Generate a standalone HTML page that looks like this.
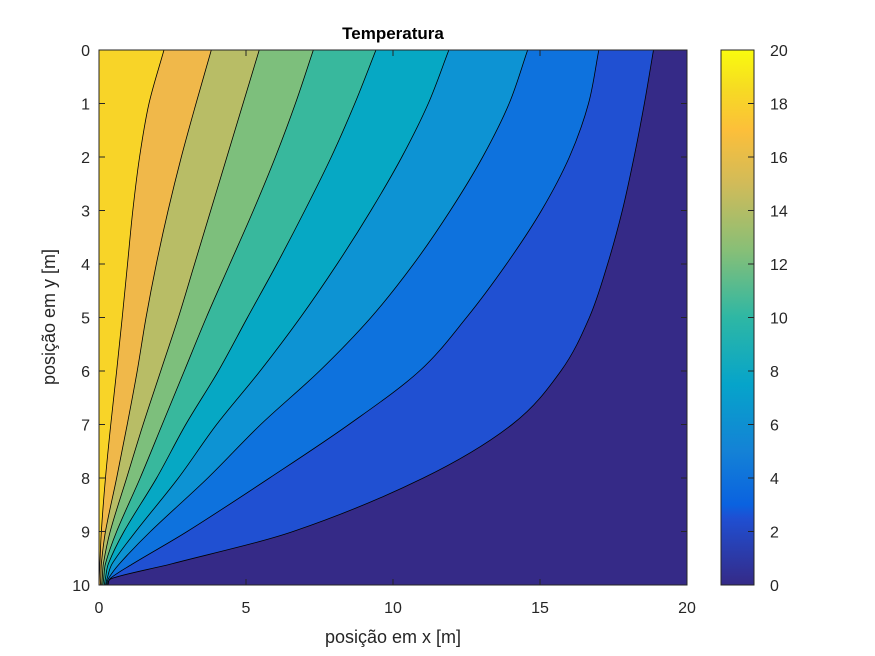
<!DOCTYPE html>
<html><head><meta charset="utf-8"><style>
html,body{margin:0;padding:0;background:#fff;}
svg{display:block;font-family:"Liberation Sans",Arial,sans-serif;}
</style></head><body>
<svg id="chart" width="875" height="656" viewBox="0 0 875 656">
<defs>
<linearGradient id="parula" x1="0" y1="1" x2="0" y2="0">
<stop offset="0" stop-color="#352a87"/><stop offset="0.125" stop-color="#1f4fd2"/>
<stop offset="0.15" stop-color="#0a62e0"/><stop offset="0.25" stop-color="#1482d6"/>
<stop offset="0.375" stop-color="#06a4ca"/><stop offset="0.5" stop-color="#2eb7a4"/>
<stop offset="0.625" stop-color="#87bf77"/><stop offset="0.75" stop-color="#d1bb59"/>
<stop offset="0.85" stop-color="#fcbf3a"/><stop offset="0.93" stop-color="#f6dc22"/>
<stop offset="1" stop-color="#f9fb0e"/></linearGradient>
<clipPath id="clip"><rect x="99" y="50" width="588" height="535"/></clipPath>
</defs>
<rect width="875" height="656" fill="#fff"/>
<g id="plot" clip-path="url(#clip)"></g>
<g id="axes"></g>
<text x="393" y="39" text-anchor="middle" font-size="17" font-weight="bold" fill="#000">Temperatura</text>
<text x="393" y="643" text-anchor="middle" font-size="18" fill="#262626">posição em x [m]</text>
<text x="0" y="0" transform="translate(55,317) rotate(-90)" text-anchor="middle" font-size="18" fill="#262626">posição em y [m]</text>
<rect x="721" y="50" width="33" height="535" fill="url(#parula)" stroke="#262626" stroke-width="1"/>
<g id="cbar"></g>
</svg>
<script>
const ySamples=[0,1,2,3,4,5,6,7,8,9,9.6,9.87,10];
const levels=[2,4,6,8,10,12,14,16,18];
const line2=[18.86,18.55,18.2,17.8,17.3,16.68,15.71,14.05,11.03,6.6,2.5,0.48,0.3];
const line4=[17.0,16.65,16.0,15.05,13.86,12.5,10.9,8.5,5.8,3.0,1.16,0.4,0.28];
const line6=[14.58,13.95,13.05,11.95,10.7,9.25,7.5,5.5,3.7,1.75,0.7,0.33,0.25];
const line8=[11.9,11.2,10.3,9.25,8.1,6.85,5.48,4.0,2.7,1.25,0.45,0.28,0.22];
const line10=[9.42,8.7,7.9,7.0,6.05,5.05,4.06,2.95,1.96,0.85,0.32,0.22,0.18];
const line12=[7.29,6.68,6.0,5.25,4.45,3.65,2.9,2.15,1.4,0.6,0.22,0.16,0.13];
const line14=[5.45,4.9,4.35,3.8,3.25,2.7,2.1,1.5,0.94,0.38,0.15,0.11,0.09];
const line16=[3.82,3.3,2.8,2.35,1.95,1.6,1.3,0.96,0.6,0.22,0.08,0.06,0.05];
const line18=[2.21,1.7,1.38,1.15,0.97,0.79,0.6,0.4,0.22,0.08,0.03,0.01,0];
const contourLines=[line2,line4,line6,line8,line10,line12,line14,line16,line18];
const bandColors=["#352a87","#2050d2","#0e72dd","#0d93d3","#06a8c4","#38b89d","#7dbf7c","#b8bd66","#f0b84a","#f8d428"];
const xTicks=[0,5,10,15,20];
const yTicks=[0,1,2,3,4,5,6,7,8,9,10];
const cTicks=[0,2,4,6,8,10,12,14,16,18,20];
const X=v=>99+v*(588/20), Y=v=>50+v*(535/10), C=v=>585-v*(535/20);
const NS="http://www.w3.org/2000/svg";
function mk(tag,attrs,parent){const e=document.createElementNS(NS,tag);for(const k in attrs)e.setAttribute(k,attrs[k]);parent.appendChild(e);return e;}
const plot=document.getElementById('plot');
const bg=mk('rect',{x:99,y:50,width:588,height:535,fill:bandColors[0]},plot);


function pathD(xs){
  const pts=xs.map((v,i)=>[X(v),Y(ySamples[i])]);
  let d='M'+pts[0][0]+','+pts[0][1];
  for(let i=0;i<pts.length-1;i++){
    const p0=pts[Math.max(0,i-1)],p1=pts[i],p2=pts[i+1],p3=pts[Math.min(pts.length-1,i+2)];
    const h=p2[1]-p1[1];
    const s1=(p2[0]-p0[0])/((p2[1]-p0[1])||1), s2=(p3[0]-p1[0])/((p3[1]-p1[1])||1);
    const c1=[p1[0]+s1*h/3,p1[1]+h/3],c2=[p2[0]-s2*h/3,p2[1]-h/3];
    d+=' C'+c1[0]+','+c1[1]+' '+c2[0]+','+c2[1]+' '+p2[0]+','+p2[1];
  }
  return d;
}
contourLines.forEach((xs,i)=>{
  const d=pathD(xs);
  const f=mk('path',{d:'M'+X(0)+','+Y(0)+' L'+d.slice(1)+' L'+X(0)+','+Y(10)+' Z',fill:bandColors[i+1]},plot);
  
  
});
contourLines.forEach((xs,i)=>{
  const l=mk('path',{d:pathD(xs),fill:'none',stroke:'#000','stroke-width':0.8},plot);
  
  
});
const axes=document.getElementById('axes');
const frame=mk('rect',{x:99,y:50,width:588,height:535,fill:'none',stroke:'#262626','stroke-width':1},axes);


xTicks.forEach(t=>{
  mk('line',{x1:X(t),x2:X(t),y1:585,y2:579,stroke:'#262626'},axes);
  mk('line',{x1:X(t),x2:X(t),y1:50,y2:56,stroke:'#262626'},axes);
  const tx=mk('text',{x:X(t),y:613,'text-anchor':'middle','font-size':16,fill:'#262626'},axes);
  tx.textContent=t;
  
  
});
yTicks.forEach(t=>{
  mk('line',{x1:99,x2:105,y1:Y(t),y2:Y(t),stroke:'#262626'},axes);
  mk('line',{x1:687,x2:681,y1:Y(t),y2:Y(t),stroke:'#262626'},axes);
  const tx=mk('text',{x:90,y:Y(t)+6,'text-anchor':'end','font-size':16,fill:'#262626'},axes);
  tx.textContent=t;
  
  
});
const cb=document.getElementById('cbar');
cTicks.forEach(t=>{
  mk('line',{x1:754,x2:748,y1:C(t),y2:C(t),stroke:'#262626'},cb);
  const tx=mk('text',{x:770,y:C(t)+6,'font-size':16,fill:'#262626'},cb);
  tx.textContent=t;
  
  
});
</script>
</body></html>
